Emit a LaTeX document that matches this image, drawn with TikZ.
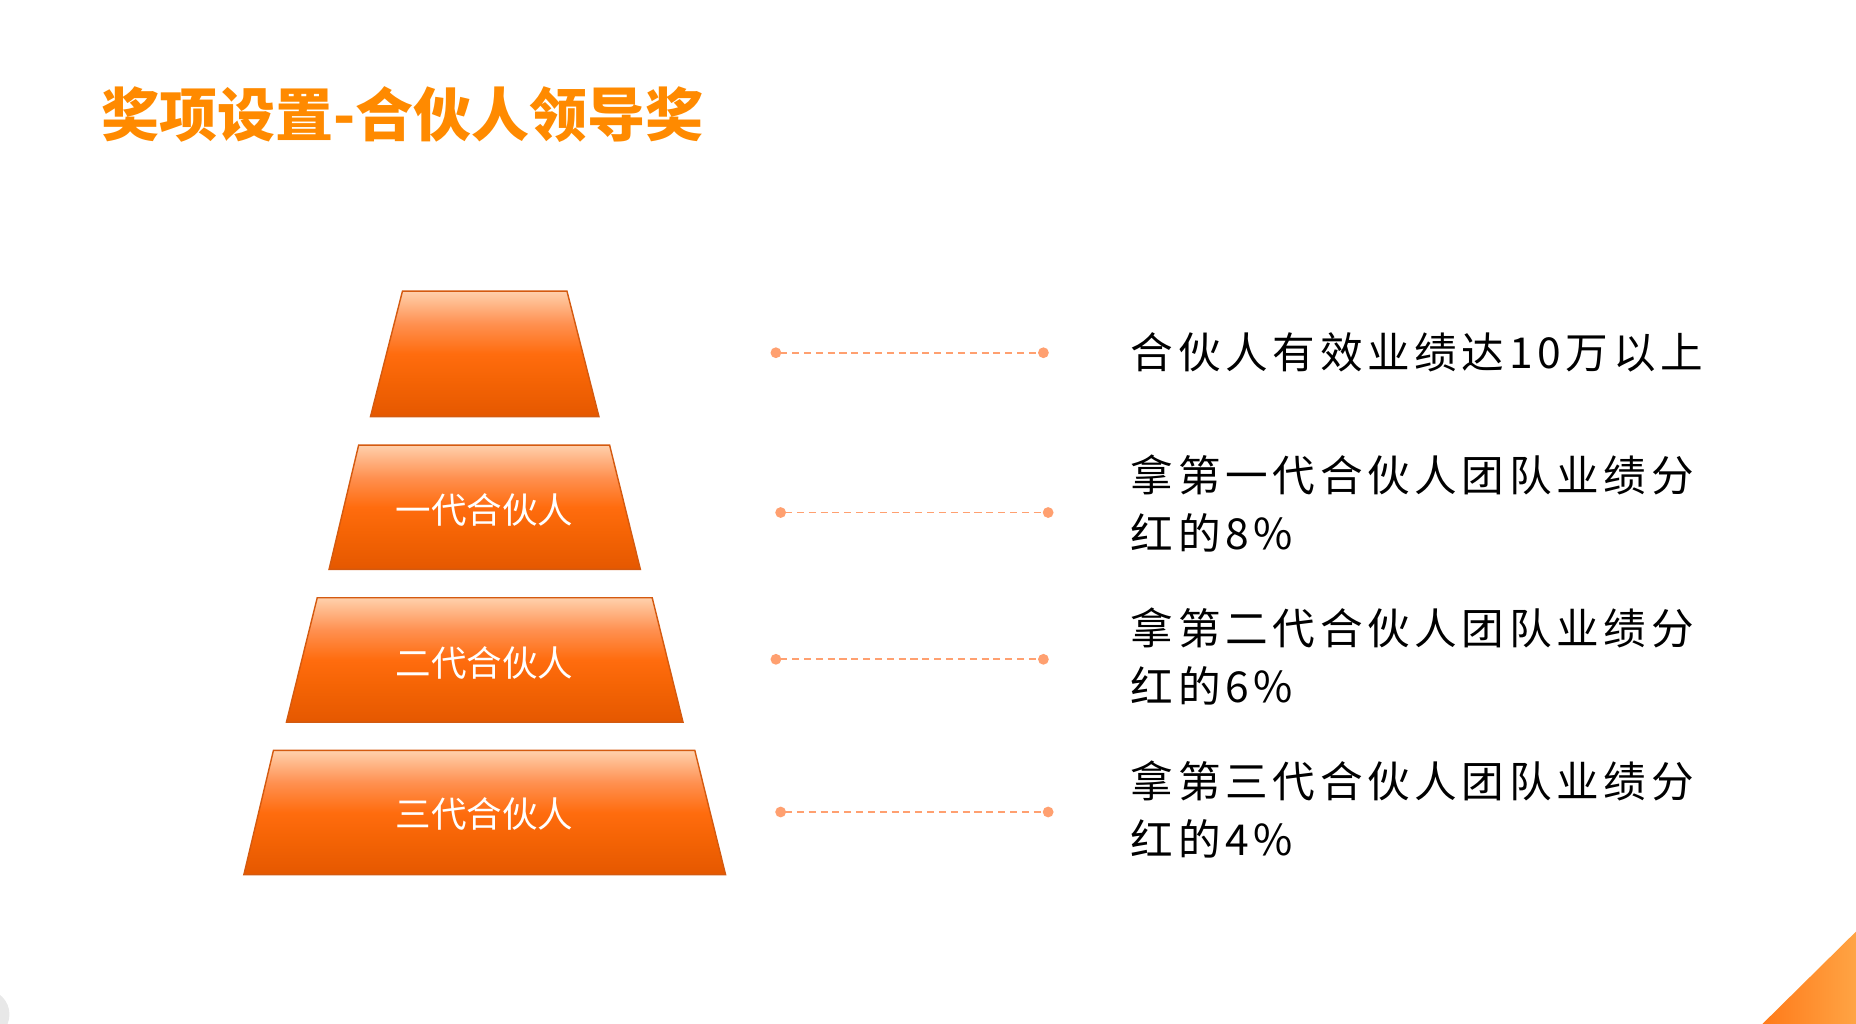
\documentclass[tikz,border=0pt]{standalone}
\usepackage{fontspec}
\usepackage{tikz}
\usetikzlibrary{arrows.meta}
\newfontfamily\cjk{Noto Sans CJK SC}
\newfontfamily\cjkspaced[LetterSpace=11]{Noto Sans CJK SC}
\definecolor{title-orange}{HTML}{FF8A00}
\definecolor{tier-top}{HTML}{FFD0AC}
\definecolor{tier-upper}{HTML}{FF9050}
\definecolor{tier-mid}{HTML}{FF6C0E}
\definecolor{tier-lower}{HTML}{F56405}
\definecolor{tier-bottom}{HTML}{E55800}
\definecolor{tier-edge}{HTML}{D45A10}
\definecolor{leader-orange}{HTML}{FFA070}
\definecolor{corner-dark}{HTML}{FF7A1A}
\definecolor{corner-light}{HTML}{FFA444}
\pgfdeclareverticalshading{tier-shade}{100bp}{color(0bp)=(tier-bottom); color(25bp)=(tier-bottom); color(40bp)=(tier-lower); color(50bp)=(tier-mid); color(62bp)=(tier-upper); color(75bp)=(tier-top); color(100bp)=(tier-top)}
\tikzset{
    tier-box/.style = {shading=tier-shade, draw=tier-edge, line width=0.6pt},
    tier-label/.style = {text=white, inner sep=0pt, font=\cjk\fontsize{15pt}{15pt}\selectfont},
    leader-line/.style = {draw=leader-orange, line width=0.8pt, dash pattern=on 3pt off 2pt, {Circle[length=4.5pt]}-{Circle[length=4.5pt]}},
    prize-text/.style = {anchor=west, align=left, text=black, inner sep=0pt, font=\cjkspaced\fontsize{18pt}{24.5pt}\selectfont},
}
\begin{document}
\begin{tikzpicture}[x=0.5pt,y=-0.5pt]
\useasboundingbox (0,0) rectangle (1568,865);
\clip (0,0) rectangle (1568,865);
\fill[black!9] (-13,857) circle [radius=10.5pt];
\shade[left color=corner-dark, right color=corner-light] (1489,865) -- (1568,787) -- (1568,865) -- cycle;

\node[anchor=west, inner sep=0pt, text=title-orange, font=\cjk\bfseries\fontsize{24.5pt}{24.5pt}\selectfont] (title) at (85,97) {奖项设置-合伙人领导奖};

\shadedraw[tier-box] (340,246) -- (479,246) -- (506,352) -- (313,352) -- cycle;
\shadedraw[tier-box] (303,376) -- (515,376) -- (541,481) -- (278,481) -- cycle;
\shadedraw[tier-box] (268,505) -- (551,505) -- (577,610) -- (242,610) -- cycle;
\shadedraw[tier-box] (231,634) -- (587,634) -- (613,739) -- (206,739) -- cycle;
\node[tier-label] (tier-one) at (409.5,431) {一代合伙人};
\node[tier-label] (tier-two) at (409.5,560) {二代合伙人};
\node[tier-label] (tier-three) at (409.5,688) {三代合伙人};

\coordinate (dot-top-l) at (651,298);
\coordinate (dot-top-r) at (886,298);
\coordinate (dot-one-l) at (655,433);
\coordinate (dot-one-r) at (890,433);
\coordinate (dot-two-l) at (651,557);
\coordinate (dot-two-r) at (886,557);
\coordinate (dot-three-l) at (655,686);
\coordinate (dot-three-r) at (890,686);
\draw[leader-line] (dot-top-l) -- (dot-top-r);
\draw[leader-line] (dot-one-l) -- (dot-one-r);
\draw[leader-line] (dot-two-l) -- (dot-two-r);
\draw[leader-line] (dot-three-l) -- (dot-three-r);

\node[prize-text] (prize-top) at (955,298) {合伙人有效业绩达10万以上};
\node[prize-text] (prize-one) at (955,425.5) {拿第一代合伙人团队业绩分\\红的8\%};
\node[prize-text] (prize-two) at (955,554.5) {拿第二代合伙人团队业绩分\\红的6\%};
\node[prize-text] (prize-three) at (955,683.5) {拿第三代合伙人团队业绩分\\红的4\%};
\end{tikzpicture}
\end{document}
